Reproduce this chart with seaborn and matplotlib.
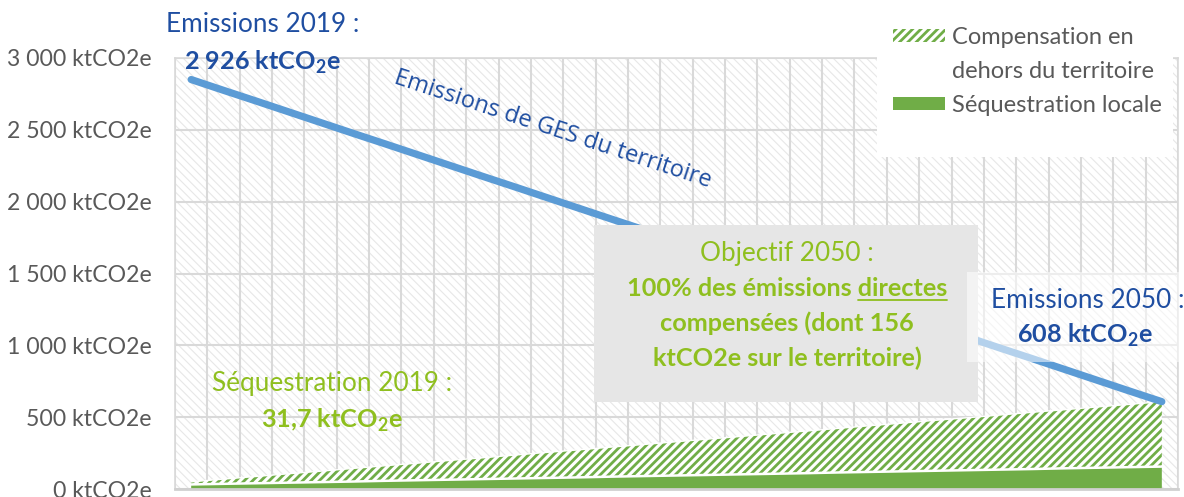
import numpy as np
import pandas as pd
import seaborn as sns
import matplotlib
matplotlib.use("Agg")
import matplotlib.pyplot as plt
from matplotlib.patches import Rectangle, Patch
from matplotlib.lines import Line2D

# ---------------- data ----------------
years = list(range(2020, 2051))  # 31 categories
emissions = [2850, 2775, 2701, 2626, 2551, 2476, 2402, 2327, 2252, 2177, 2103,
             2028, 1953, 1878, 1804, 1729, 1654, 1579, 1505, 1430, 1355, 1280,
             1206, 1131, 1056, 981, 907, 832, 757, 682, 608]
sequestration = [31.7, 36, 40, 44, 48, 52, 57, 61, 65, 69, 73, 77, 81, 86, 90,
                 94, 98, 102, 106, 110, 115, 119, 123, 127, 131, 135, 139, 144,
                 148, 152, 156]
compensation = [18, 33, 47, 62, 76, 91, 105, 119, 134, 148, 163, 178, 192, 206,
                220, 235, 250, 264, 279, 293, 307, 322, 336, 351, 365, 380, 395,
                408, 423, 437, 452]
yticks = [0, 500, 1000, 1500, 2000, 2500, 3000]
ytick_labels = ["0 ktCO2e", "500 ktCO2e", "1 000 ktCO2e", "1 500 ktCO2e",
                "2 000 ktCO2e", "2 500 ktCO2e", "3 000 ktCO2e"]
legend_labels = ["Compensation en", "dehors du territoire", "Séquestration locale"]

# ---------------- style ----------------
sns.set_theme(style="white")
FONT = ["Lato", "DejaVu Sans"]
plt.rcParams["font.family"] = FONT
plt.rcParams["mathtext.fontset"] = "custom"
plt.rcParams["mathtext.rm"] = "Lato"
plt.rcParams["mathtext.bf"] = "Lato:bold"

GREEN = "#70ad47"
LINE_BLUE = "#5b9bd5"
TXT_BLUE = "#1f4ea1"
TXT_GREEN = "#8fbf1f"
GRID = "#d9d9d9"
TICK = "#595959"
HATCH_LW = 2.0

W, H = 1184, 497
fig = plt.figure(figsize=(W / 100, H / 100), dpi=100)
fig.patch.set_facecolor("white")


def fx(px):
    return px / W


def fy(py):
    return 1 - py / H


ax = fig.add_axes([fx(175), fy(489), fx(1178) - fx(175), fy(58) - fy(489)])
ax.set_facecolor("white")

# hatched plot-area background
plt.rcParams["hatch.linewidth"] = 0.8
bg = Rectangle((0, 0), 1, 1, transform=ax.transAxes, facecolor="white",
               edgecolor="#e7e7e7", hatch="\\" * 4, linewidth=0, zorder=0.1)
if hasattr(bg, "set_hatch_linewidth"):
    bg.set_hatch_linewidth(0.8)
ax.add_patch(bg)

x = np.arange(len(years))
df = pd.DataFrame({"idx": x, "year": years, "emissions": emissions,
                   "seq": sequestration, "comp": compensation})
df["total"] = df["seq"] + df["comp"]

# areas
ax.fill_between(df["idx"], 0, df["seq"], facecolor=GREEN, edgecolor="none",
                linewidth=0, zorder=2)
plt.rcParams["hatch.linewidth"] = HATCH_LW
hatch_area = ax.fill_between(df["idx"], df["seq"], df["total"], facecolor="white",
                             edgecolor=GREEN, hatch="////", linewidth=0, zorder=2)
if hasattr(hatch_area, "set_hatch_linewidth"):
    hatch_area.set_hatch_linewidth(HATCH_LW)
ax.plot(df["idx"], df["seq"], color="white", linewidth=1.8, zorder=2.5)
ax.plot(df["idx"], df["total"], color="white", linewidth=1.0, zorder=2.5)

# emissions line
sns.lineplot(data=df, x="idx", y="emissions", ax=ax, color=LINE_BLUE,
             linewidth=5.2, zorder=3, solid_capstyle="round")

ax.set_xlim(-0.5, len(years) - 0.5)
ax.set_ylim(0, 3000)
ax.set_xticks(np.arange(-0.5, len(years), 1))
ax.set_xticklabels([])
ax.set_yticks(yticks)
ax.set_yticklabels(ytick_labels)
ax.set_xlabel("")
ax.set_ylabel("")
ax.tick_params(axis="both", length=0)
ax.tick_params(axis="y", pad=17, labelsize=16.6, labelcolor=TICK)
ax.set_axisbelow(True)
ax.grid(True, color=GRID, linewidth=1.5, zorder=0.5)
for s in ax.spines.values():
    s.set_color(GRID)
    s.set_linewidth(1.2)
ax.spines["bottom"].set_color("#d0d0d0")
ax.spines["bottom"].set_linewidth(2)

# legend (figure level, over a white panel)
fig.add_artist(Rectangle((fx(877), fy(157)), fx(1173) - fx(877), fy(0) - fy(157),
                         transform=fig.transFigure, facecolor="white",
                         edgecolor="none", zorder=4.5))
plt.rcParams["hatch.linewidth"] = HATCH_LW
h1 = Patch(facecolor="white", edgecolor=GREEN, hatch="////", linewidth=0)
h_empty = Patch(facecolor="none", edgecolor="none")
h2 = Patch(facecolor=GREEN, edgecolor="none")
leg = fig.legend([h1, h_empty, h2], legend_labels,
                 loc="upper left", bbox_to_anchor=(fx(893), fy(27)),
                 bbox_transform=fig.transFigure, frameon=False,
                 fontsize=17.0, handlelength=2.2, handleheight=0.42,
                 handletextpad=0.3, labelspacing=0.55, borderpad=0,
                 borderaxespad=0)
for t in leg.get_texts():
    t.set_color(TICK)
leg.set_zorder(6)

# Objectif box
fig.add_artist(Rectangle((fx(594), fy(402)), fx(978) - fx(594), fy(225) - fy(402),
                         transform=fig.transFigure, facecolor="#e6e6e6",
                         edgecolor="none", zorder=4))
# semi-transparent label background for "Emissions 2050"
fig.add_artist(Rectangle((fx(967), fy(362)), fx(1184) - fx(967), fy(272) - fy(362),
                         transform=fig.transFigure, facecolor="white", alpha=0.55,
                         edgecolor="none", zorder=4))

SZ = 18.8   # regular annotation text
SB = 18.2   # bold annotation text
fig.text(fx(263), fy(25), "Emissions 2019 :", color=TXT_BLUE, fontsize=SZ,
         ha="center", va="center", zorder=7)
fig.text(fx(262), fy(62), r"2 926 ktCO$_\mathbf{2}$e", color=TXT_BLUE, fontsize=SB,
         fontweight="bold", ha="center", va="center", zorder=7)
fig.text(fx(553), fy(130), "Emissions de GES du territoire", color=TXT_BLUE,
         fontsize=17, family=["Open Sans", "DejaVu Sans"], rotation=-18.3,
         rotation_mode="anchor", ha="center", va="center", zorder=7)
fig.text(fx(1088), fy(300), "Emissions 2050 :", color=TXT_BLUE, fontsize=SZ,
         ha="center", va="center", zorder=7)
fig.text(fx(1085), fy(335), r"608 ktCO$_\mathbf{2}$e", color=TXT_BLUE, fontsize=SB,
         fontweight="bold", ha="center", va="center", zorder=7)
fig.text(fx(332), fy(383), "Séquestration 2019 :", color=TXT_GREEN, fontsize=SZ,
         ha="center", va="center", zorder=7)
fig.text(fx(332), fy(420), r"31,7 ktCO$_\mathbf{2}$e", color=TXT_GREEN, fontsize=SB,
         fontweight="bold", ha="center", va="center", zorder=7)

fig.text(fx(787), fy(253), "Objectif 2050 :", color=TXT_GREEN, fontsize=SZ,
         ha="center", va="center", zorder=7)
t_line = fig.text(fx(787), fy(289), "100% des émissions directes", color=TXT_GREEN,
                  fontsize=SB, fontweight="bold", ha="center", va="center", zorder=7)
fig.text(fx(787), fy(323), "compensées (dont 156", color=TXT_GREEN, fontsize=SB,
         fontweight="bold", ha="center", va="center", zorder=7)
fig.text(fx(787), fy(358), "ktCO2e sur le territoire)", color=TXT_GREEN, fontsize=SB,
         fontweight="bold", ha="center", va="center", zorder=7)

# underline "directes"
fig.canvas.draw()
r = fig.canvas.get_renderer()
bb = t_line.get_window_extent(r)
tmp = fig.text(0, 0, "directes", fontsize=SB, fontweight="bold")
wbb = tmp.get_window_extent(r)
tmp.remove()
uy = bb.y0 + 1
fig.add_artist(Line2D([(bb.x1 - wbb.width) / W, bb.x1 / W], [uy / H, uy / H],
                      transform=fig.transFigure, color=TXT_GREEN, linewidth=1.3,
                      zorder=7))

fig.savefig("out.png", dpi=100, facecolor="white")
